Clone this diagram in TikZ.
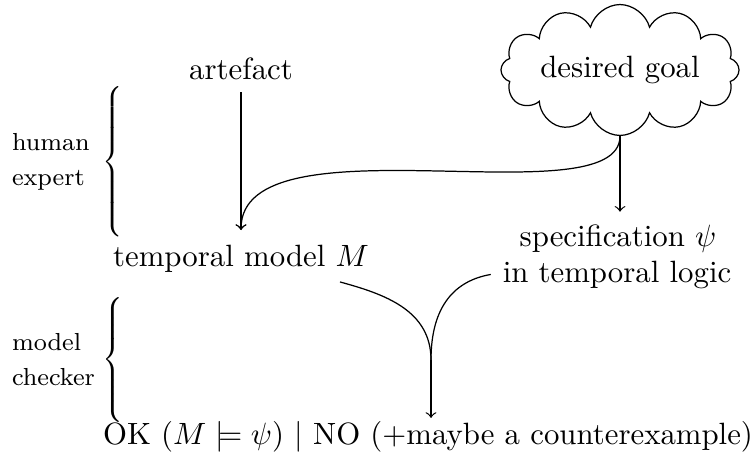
\documentclass[tikz,border=0pt]{standalone}
\usepackage{graphicx}
\usetikzlibrary{shapes.symbols,calc}
\newcommand\sidebrace[1]{\resizebox*{!}{#1}{$\delimiterfactor=1000 \delimitershortfall=0pt \left\{\vcenter{\hbox{\vrule height 1.25\dimexpr #1\relax width 0pt}}\right.$}}
\begin{document}
\begin{tikzpicture}[x=0.3247pt,y=-0.3247pt,
  txt/.style={inner sep=0pt, outer sep=0pt},
  side/.style={inner sep=0pt, outer sep=0pt, align=left, font=\fontsize{8}{11.4}\selectfont, anchor=west},
  brc/.style={inner sep=0pt, outer sep=0pt, anchor=west},
  goalcloud/.style={cloud, draw, cloud puffs=12, cloud ignores aspect, minimum width=77.3pt, minimum height=42.5pt, inner sep=0pt},
  conn/.style={line width=0.4pt},
  arr/.style={conn, ->, >=to}]
\useasboundingbox (0,0) rectangle (756,465);
\node[goalcloud] (goal) at (620,70) {desired goal};
\node[txt, anchor=base] (art) at (241,80) {artefact};
\node[txt, anchor=base] (model) at (241,267) {temporal model $M$};
\node[txt, anchor=base] (spec) at (618,247) {specification $\psi$};
\node[txt, anchor=base] (logic) at (617,283) {in temporal logic};
\node[txt, anchor=base] (result) at (428,445) {OK ($M\models\psi$) $|$ NO (+maybe a counterexample)};
\node[side] (human) at (12,162) {human\\expert};
\node[side] (checker) at (12,360) {model\\checker};
\node[brc] (hbrace) at (102,162) {\sidebrace{48.7pt}};
\node[brc] (cbrace) at (102,360) {\sidebrace{40.9pt}};
\draw[arr, shorten <=3.9pt, shorten >=5.07pt] (art.south) -- (model.north);
\draw[arr, shorten >=5.07pt] (goal.south) .. controls +(0,84) and +(0,-131.6) .. (model.north);
\draw[arr, shorten >=4.4pt] (goal.south) -- (goal.south |- spec.north);
\coordinate (join) at (431,360);
\draw[conn] ($(model.south)+(99,9)$) .. controls +(44,12) and +(0,-50) .. (join);
\draw[conn] ($(logic.west)+(-12,-1)$) .. controls +(-35,6) and +(0,-55) .. (join);
\draw[arr, shorten >=1.3pt] (join) -- (join |- result.north);
\end{tikzpicture}
\end{document}
